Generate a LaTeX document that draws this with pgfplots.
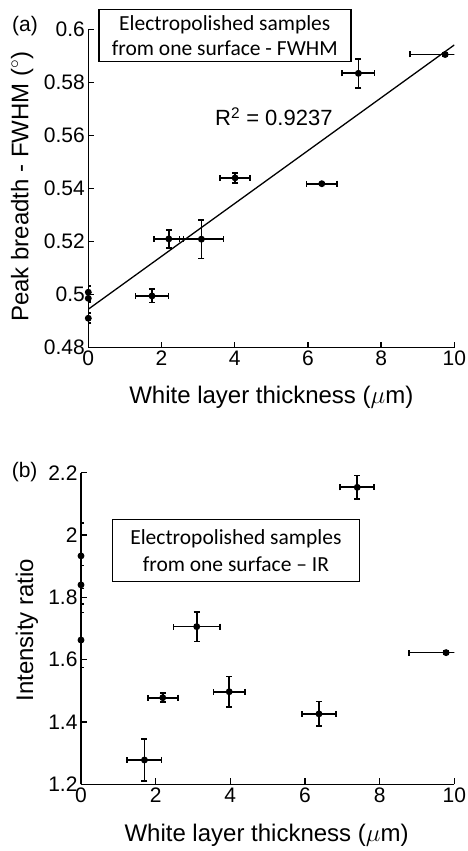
\documentclass[border=0pt]{standalone}
\usepackage{pgfplots}
\pgfplotsset{compat=1.18}
\usepackage{pgfplotstable}
\usepackage{fontspec}
\setmainfont{Liberation Sans}
\newfontfamily\calfont{Carlito}

\pgfplotstableread{
x y ex ey
0 0.5009 0 0.0024
0 0.4986 0 0.0014
0 0.4911 0 0.0019
1.74 0.4995 0.45 0.0025
2.20 0.5210 0.40 0.0033
3.09 0.5209 0.60 0.0073
4.01 0.5440 0.41 0.0018
6.38 0.5418 0.42 0.0003
7.38 0.5834 0.44 0.0054
9.75 0.5905 0.97 0.0008
}\tableA

\pgfplotstableread{
x y ex ey
0 1.933 0 0.105
0 1.840 0 0.062
0 1.663 0 0.088
1.70 1.278 0.46 0.067
2.19 1.478 0.40 0.014
3.10 1.706 0.62 0.048
3.97 1.497 0.42 0.049
6.375 1.426 0.45 0.040
7.40 2.153 0.455 0.038
9.78 1.6225 0.99 0.006
}\tableB

\begin{document}
\begin{tikzpicture}
\useasboundingbox (0pt,0pt) rectangle (467pt,851pt);
\pgfplotsset{
  common/.style={
    scale only axis, axis lines=left, axis line style={-, line width=1.3pt},
    tick align=inside, major tick length=6pt, tick style={line width=1.3pt, black},
    ticklabel style={font=\fontsize{21}{25}\selectfont},
    label style={font=\fontsize{24}{28}\selectfont},
    /pgf/number format/assume math mode=true,
    clip mode=individual,
    xmin=0, xmax=10, xtick={0,2,...,10},
    xlabel={White layer thickness ($\mu$m)},
  },
  ebar/.style={only marks, mark=*, mark size=2.6pt, black, line width=1.6pt,
    error bars/.cd, x dir=both, x explicit, y dir=both, y explicit,
    error bar style={line width=1.7pt, black},
    error mark options={rotate=90, mark size=3pt, line width=1.7pt, black}}
}

\begin{axis}[common,
  at={(88.3pt,503.3pt)}, anchor=south west,
  width=366pt, height=318.4pt,
  ymin=0.48, ymax=0.6, ytick={0.48,0.50,...,0.601},
  yticklabel style={/pgf/number format/fixed, /pgf/number format/precision=2},
  ylabel={Peak breadth - FWHM ($^\circ$)},
  xlabel style={at={(axis description cs:0.5,-0.157)}, anchor=center},
  ylabel style={at={(axis description cs:-0.181,0.506)}, anchor=center},
]
\addplot[black, line width=1.3pt] coordinates {(0,0.4945) (10,0.5941)};
\addplot[ebar] table[x=x, y=y, x error=ex, y error=ey] {\tableA};
\node[font=\fontsize{22}{26}\selectfont] at (axis cs:5.07,0.567) {R\textsuperscript{2} = 0.9237};
\node[draw, fill=white, line width=1.4pt, minimum width=252pt, minimum height=52pt, inner sep=0pt, align=center,
  font=\calfont\fontsize{21.5}{25}\selectfont] at (axis cs:3.73,0.5977)
  {Electropolished samples\\from one surface - FWHM};
\node[font=\fontsize{21}{25}\selectfont] at (axis cs:-1.73,0.6012) {(a)};
\end{axis}

\begin{axis}[common,
  at={(81pt,66.7pt)}, anchor=south west,
  width=373.3pt, height=311.6pt,
  ymin=1.2, ymax=2.2, ytick={1.2,1.4,...,2.21},
  yticklabel style={/pgf/number format/fixed, /pgf/number format/precision=1},
  ylabel={Intensity ratio},
  xlabel style={at={(axis description cs:0.497,-0.163)}, anchor=center},
  ylabel style={at={(axis description cs:-0.145,0.495)}, anchor=center},
]
\addplot[ebar] table[x=x, y=y, x error=ex, y error=ey] {\tableB};
\node[draw, fill=white, line width=1.4pt, minimum width=246.7pt, minimum height=62.3pt, inner sep=0pt, align=center,
  font=\calfont\fontsize{21.5}{26.7}\selectfont] at (axis cs:4.15,1.950)
  {Electropolished samples\\from one surface \textendash{} IR};
\node[font=\fontsize{21}{25}\selectfont] at (axis cs:-1.51,2.202) {(b)};
\end{axis}
\end{tikzpicture}
\end{document}
